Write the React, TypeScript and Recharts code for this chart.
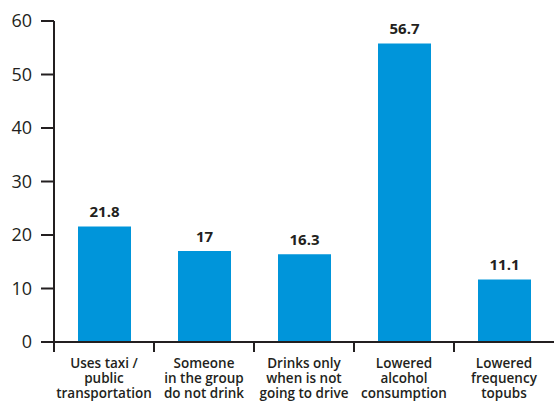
import React from 'react';
import { BarChart, Bar, XAxis, YAxis, LabelList } from 'recharts';

const categories = [
  'Uses taxi /\npublic\ntransportation',
  'Someone\nin the group\ndo not drink',
  'Drinks only\nwhen is not\ngoing to drive',
  'Lowered\nalcohol\nconsumption',
  'Lowered\nfrequency\ntopubs',
];
// bar heights as drawn in the picture
const values = [21.6, 17.0, 16.4, 55.8, 11.7];
// value labels as printed above the bars
const valueLabels = ['21.8', '17', '16.3', '56.7', '11.1'];
const yTicks = [0, 10, 20, 30, 40, 50, 60];

const data = categories.map((c, i) => ({ name: c, value: values[i], label: valueLabels[i] }));

const TEXT = '#231f20';
const FONT = '"Open Sans", "DejaVu Sans", sans-serif';

const CatTick = (props: any) => {
  const { x, y, payload } = props;
  const half = payload && typeof payload.offset === 'number' ? payload.offset : 50;
  const lines = String(payload.value).split('\n');
  return (
    <g>
      <line x1={x - half} x2={x - half} y1={y - 1} y2={y + 10} stroke={TEXT} strokeWidth={2} />
      <text x={x} y={y + 26} textAnchor="middle" fill={TEXT} fontFamily={FONT} fontWeight={600} fontSize={13.5}>
        {lines.map((l, i) => (
          <tspan key={i} x={x} dy={i === 0 ? 0 : 15}>{l}</tspan>
        ))}
      </text>
    </g>
  );
};

export default function App() {
  return (
    <div style={{ position: 'absolute', left: 0, top: 0, background: '#fff' }}>
      <BarChart width={554} height={403} data={data} margin={{ top: 21, right: 0, bottom: 0, left: 0 }}>
        <XAxis
          dataKey="name"
          height={61}
          tick={<CatTick />}
          tickLine={false}
          tickSize={0}
          tickMargin={0}
          axisLine={{ stroke: TEXT, strokeWidth: 2 }}
          interval={0}
        />
        <YAxis
          width={54}
          domain={[0, 60]}
          ticks={yTicks}
          tickSize={13}
          tickMargin={9}
          tick={{ fill: TEXT, fontSize: 18, fontFamily: FONT }}
          tickLine={{ stroke: TEXT, strokeWidth: 2 }}
          axisLine={{ stroke: TEXT, strokeWidth: 2 }}
        />
        <Bar dataKey="value" fill="#0095DA" barSize={53} isAnimationActive={false}>
          <LabelList
            dataKey="label"
            position="top"
            offset={9}
            fill={TEXT}
            fontFamily={FONT}
            fontWeight={700}
            fontSize={15}
          />
        </Bar>
      </BarChart>
    </div>
  );
}
